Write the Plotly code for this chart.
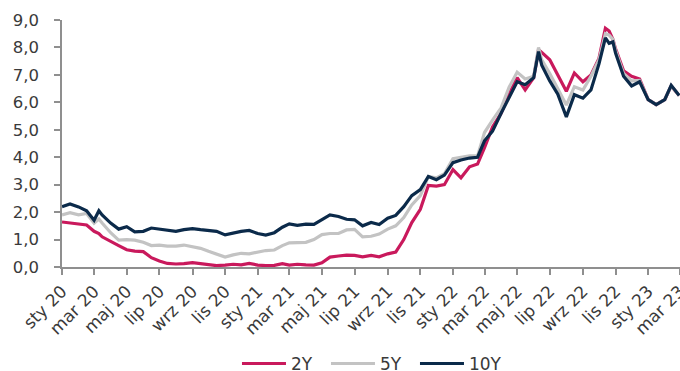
import plotly.graph_objects as go

# Observation dates (roughly semi-monthly, with extra points around sharp moves)
dates = [
    "2020-01-01", "2020-01-16", "2020-02-01", "2020-02-16", "2020-03-01", "2020-03-10",
    "2020-03-16", "2020-04-01", "2020-04-16", "2020-05-01", "2020-05-16", "2020-06-01",
    "2020-06-16", "2020-07-01", "2020-07-16", "2020-08-01", "2020-08-16", "2020-09-01",
    "2020-09-16", "2020-10-01", "2020-10-16", "2020-11-01", "2020-11-16", "2020-12-01",
    "2020-12-16", "2021-01-01", "2021-01-16", "2021-02-01", "2021-02-16", "2021-03-01",
    "2021-03-16", "2021-04-01", "2021-04-16", "2021-05-01", "2021-05-16", "2021-06-01",
    "2021-06-16", "2021-07-01", "2021-07-16", "2021-08-01", "2021-08-16", "2021-09-01",
    "2021-09-16", "2021-10-01", "2021-10-16", "2021-11-01", "2021-11-16", "2021-12-01",
    "2021-12-16", "2022-01-01", "2022-01-16", "2022-02-01", "2022-02-16", "2022-03-01",
    "2022-03-16", "2022-04-01", "2022-04-16", "2022-05-01", "2022-05-16", "2022-06-01",
    "2022-06-10", "2022-06-16", "2022-07-01", "2022-07-16", "2022-08-01", "2022-08-16",
    "2022-09-01", "2022-09-16", "2022-10-01", "2022-10-13", "2022-10-20", "2022-10-27",
    "2022-11-01", "2022-11-16", "2022-12-01", "2022-12-16", "2023-01-01", "2023-01-16",
    "2023-02-01", "2023-02-13", "2023-02-28",
]

# Yields, %
y2 = [
    1.64, 1.60, 1.55, 1.53, 1.30, 1.22,
    1.10, 0.92, 0.78, 0.63, 0.58, 0.56,
    0.34, 0.22, 0.13, 0.11, 0.12, 0.16,
    0.12, 0.07, 0.05, 0.07, 0.10, 0.08,
    0.13, 0.07, 0.05, 0.06, 0.12, 0.07,
    0.10, 0.08, 0.07, 0.15, 0.36, 0.40,
    0.43, 0.42, 0.37, 0.42, 0.37, 0.48,
    0.54, 1.00, 1.62, 2.10, 2.97, 2.95,
    3.00, 3.55, 3.25, 3.65, 3.75, 4.35,
    5.10, 5.60, 6.30, 6.90, 6.45, 6.90,
    7.92, 7.82, 7.55, 7.00, 6.40, 7.07,
    6.75, 7.00, 7.60, 8.70, 8.60, 8.30,
    7.95, 7.15, 6.95, 6.85, 6.10, 5.92,
    6.10, 6.60, 6.25,
]

y5 = [
    1.90, 1.98, 1.90, 1.95, 1.60, 1.75,
    1.60, 1.25, 0.98, 1.00, 0.98, 0.90,
    0.78, 0.80, 0.76, 0.76, 0.80, 0.74,
    0.68, 0.57, 0.48, 0.36, 0.44, 0.50,
    0.48, 0.53, 0.60, 0.62, 0.78, 0.88,
    0.88, 0.90, 1.00, 1.18, 1.22, 1.22,
    1.35, 1.37, 1.10, 1.12, 1.20, 1.38,
    1.50, 1.80, 2.26, 2.60, 3.30, 3.25,
    3.40, 3.95, 4.00, 4.05, 4.05, 4.90,
    5.35, 5.80, 6.55, 7.10, 6.85, 6.95,
    8.00, 7.55, 7.05, 6.50, 5.90, 6.57,
    6.45, 6.95, 7.55, 8.50, 8.45, 8.30,
    7.90, 7.05, 6.78, 6.80, 6.10, 5.92,
    6.10, 6.60, 6.25,
]

y10 = [
    2.20, 2.30, 2.19, 2.05, 1.70, 2.05,
    1.90, 1.60, 1.38, 1.47, 1.28, 1.30,
    1.42, 1.38, 1.35, 1.30, 1.36, 1.40,
    1.36, 1.33, 1.30, 1.17, 1.24, 1.30,
    1.33, 1.22, 1.16, 1.25, 1.45, 1.57,
    1.52, 1.56, 1.55, 1.72, 1.90, 1.84,
    1.74, 1.72, 1.50, 1.62, 1.55, 1.78,
    1.88, 2.20, 2.60, 2.82, 3.30, 3.18,
    3.35, 3.80, 3.90, 3.97, 4.00, 4.60,
    4.95, 5.60, 6.20, 6.75, 6.64, 6.90,
    7.85, 7.35, 6.78, 6.30, 5.47, 6.28,
    6.15, 6.45, 7.40, 8.35, 8.15, 8.20,
    7.80, 6.95, 6.60, 6.75, 6.10, 5.92,
    6.10, 6.62, 6.25,
]

series_names = ["2Y", "5Y", "10Y"]
series_colors = ["#C9195C", "#C3C3C3", "#0B2A4A"]

# Axis ticks every two months, Polish month abbreviations
tick_dates = [
    "2020-01-01", "2020-03-01", "2020-05-01", "2020-07-01", "2020-09-01", "2020-11-01",
    "2021-01-01", "2021-03-01", "2021-05-01", "2021-07-01", "2021-09-01", "2021-11-01",
    "2022-01-01", "2022-03-01", "2022-05-01", "2022-07-01", "2022-09-01", "2022-11-01",
    "2023-01-01", "2023-03-01",
]
tick_labels = [
    "sty 20", "mar 20", "maj 20", "lip 20", "wrz 20", "lis 20",
    "sty 21", "mar 21", "maj 21", "lip 21", "wrz 21", "lis 21",
    "sty 22", "mar 22", "maj 22", "lip 22", "wrz 22", "lis 22",
    "sty 23", "mar 23",
]

font_family = "DejaVu Sans"
text_color = "#3a3a3a"
axis_color = "#8f8f8f"

fig = go.Figure()
for name, values, color in zip(series_names, [y2, y5, y10], series_colors):
    fig.add_trace(go.Scatter(
        x=dates, y=values, name=name, mode="lines",
        line=dict(color=color, width=3.2),
    ))

fig.update_layout(
    width=680, height=371,
    margin=dict(l=62, r=0, t=20, b=104),
    paper_bgcolor="white", plot_bgcolor="white",
    separators=", ",
    font=dict(family=font_family, size=16, color=text_color),
    showlegend=True,
    legend=dict(
        orientation="h",
        xref="container", x=0.3485, xanchor="left",
        yref="container", y=0.019, yanchor="middle",
        font=dict(family=font_family, size=17, color=text_color),
        entrywidth=30, entrywidthmode="pixels", itemwidth=44,
        bgcolor="rgba(0,0,0,0)",
    ),
)

fig.update_xaxes(
    type="date", range=["2020-01-01", "2023-03-01 12:00"],
    tickmode="array", tickvals=tick_dates, ticktext=tick_labels,
    tickangle=-45, ticklabeloverflow="allow",
    showline=True, linecolor=axis_color, linewidth=1.5,
    ticks="outside", ticklen=6, tickcolor=axis_color, tickwidth=1.5,
    showgrid=False, zeroline=False, automargin=False,
    tickfont=dict(family=font_family, size=17, color=text_color),
)
fig.update_yaxes(
    range=[0, 9], dtick=1, tick0=0, tickformat=".1f",
    showline=True, linecolor=axis_color, linewidth=1.5,
    ticks="outside", ticklen=6, tickcolor=axis_color, tickwidth=1.5,
    ticklabelstandoff=12,
    showgrid=False, zeroline=False, automargin=False,
    tickfont=dict(family=font_family, size=16.5, color=text_color),
)

fig.write_html("out.html")
